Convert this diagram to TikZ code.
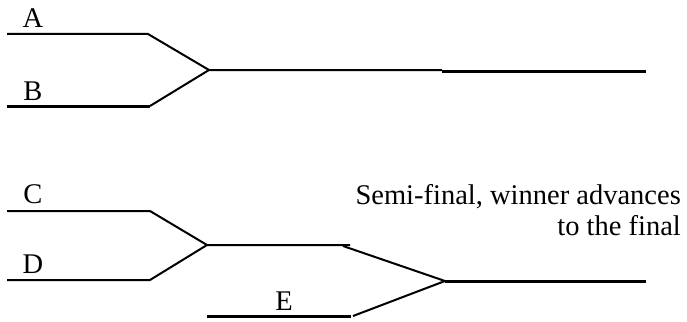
\documentclass[tikz,border=0pt]{standalone}
\usepackage{fontspec}
\setmainfont{Liberation Serif}
\begin{document}
\begin{tikzpicture}[x=1pt,y=-1pt,
  thin line/.style={line width=2pt},
  thick line/.style={line width=3pt},
  lbl/.style={font=\fontsize{28.5}{32}\selectfont, inner sep=0pt, anchor=base}]
\useasboundingbox (0,0) rectangle (687,321);
% top bracket
\coordinate (a0) at (7,34);   \coordinate (a1) at (148,34);
\coordinate (b0) at (7,106);  \coordinate (b1) at (150,106);
\coordinate (ab) at (209,70); \coordinate (ab1) at (442,70);
\coordinate (ab2) at (442,71); \coordinate (ab3) at (646,71);
\draw[thin line] (a0) -- (a1) -- (ab);
\draw[thick line] (b0) -- (b1);
\draw[thin line] (b1) -- (ab) -- (ab1);
\draw[thick line] (ab2) -- (ab3);
\node[lbl] (A) at (33,28) {A};
\node[lbl] (B) at (33,100) {B};
% bottom bracket
\coordinate (c0) at (7,211);  \coordinate (c1) at (150,211);
\coordinate (d0) at (7,280);  \coordinate (d1) at (150,280);
\coordinate (cd) at (207,245); \coordinate (cd1) at (350,245);
\coordinate (cd2) at (343,246);
\coordinate (e0) at (207,316); \coordinate (e1) at (351,316);
\coordinate (e2) at (353,316);
\coordinate (f) at (445,281); \coordinate (f1) at (646,281);
\draw[thin line] (c0) -- (c1) -- (cd);
\draw[thin line] (d0) -- (d1) -- (cd) -- (cd1);
\draw[thin line] (cd2) -- (f);
\draw[thick line] (e0) -- (e1);
\draw[thin line] (e2) -- (f);
\draw[thick line] (f) -- (f1);
\node[lbl] (C) at (33,203) {C};
\node[lbl] (D) at (33,273) {D};
\node[lbl] (E) at (284,310) {E};
\node[lbl, anchor=base east] (s1) at (681,204) {Semi-final, winner advances};
\node[lbl, anchor=base east] (s2) at (681,235) {to the final};
\end{tikzpicture}
\end{document}
